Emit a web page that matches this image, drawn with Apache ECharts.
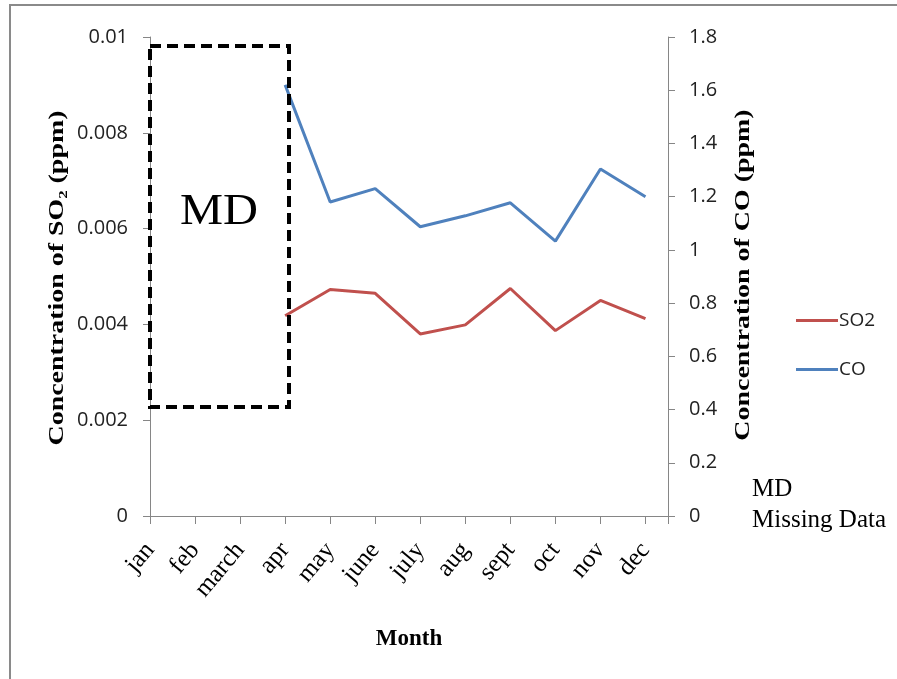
<!DOCTYPE html>
<html>
<head>
<meta charset="utf-8">
<script src="https://cdn.jsdelivr.net/npm/echarts@6/dist/echarts.min.js"></script>
<style>
  html, body { margin: 0; padding: 0; background: #fff; }
  #chart { width: 897px; height: 679px; }
</style>
</head>
<body>
<div id="chart"></div>
<script>
// months on the x axis
const months = ['jan', 'feb', 'march', 'apr', 'may', 'june', 'july', 'aug', 'sept', 'oct', 'nov', 'dec'];
// jan-march are missing data (MD)
const so2 = [null, null, null, 0.00418, 0.00473, 0.00465, 0.00380, 0.00399, 0.00475, 0.00387, 0.00450, 0.00412];
const co = [null, null, null, 1.62, 1.18, 1.23, 1.087, 1.128, 1.177, 1.033, 1.304, 1.20];
const so2Ticks = [0, 0.002, 0.004, 0.006, 0.008, 0.01];
const coTicks = [0, 0.2, 0.4, 0.6, 0.8, 1, 1.2, 1.4, 1.6, 1.8];

const chart = echarts.init(document.getElementById('chart'));

const axisGray = '#868686';
const labelFont = 'Open Sans, Liberation Sans, sans-serif';
const serif = 'Liberation Serif, Times New Roman, serif';

function pairs(arr) {
  return arr.map((v, i) => [i, v]);
}

// rotated axis titles, stretched along their length like the original
function axisTitle(text, x, y) {
  return {
    type: 'text',
    x: x,
    y: y,
    rotation: Math.PI / 2,
    scaleX: 1.33,
    style: {
      text: text,
      x: 0,
      y: 0,
      align: 'center',
      verticalAlign: 'middle',
      fontFamily: serif,
      fontWeight: 'bold',
      fontSize: 21,
      fill: '#000'
    }
  };
}

chart.setOption({
  animation: false,
  grid: { left: 150, right: 229, top: 37, bottom: 163 },
  legend: {
    orient: 'vertical',
    left: 791,
    top: 306,
    itemGap: 30,
    icon: 'rect',
    itemWidth: 42,
    itemHeight: 3,
    textStyle: { fontFamily: labelFont, fontSize: 19, color: '#222', padding: [0, 0, 0, -4] },
    data: ['SO2', 'CO']
  },
  xAxis: {
    type: 'value',
    min: 0,
    max: 11.5,
    interval: 1,
    name: 'Month',
    nameLocation: 'middle',
    nameGap: 112,
    nameTextStyle: { fontFamily: serif, fontWeight: 'bold', fontSize: 23, color: '#000' },
    splitLine: { show: false },
    axisLine: { lineStyle: { color: axisGray } },
    axisTick: { length: 8, lineStyle: { color: axisGray } },
    axisLabel: {
      rotate: 50,
      margin: 30,
      fontFamily: serif,
      fontSize: 25,
      color: '#000',
      formatter: v => Number.isInteger(v) ? (months[v] || '') : ''
    }
  },
  yAxis: [
    {
      type: 'value',
      min: so2Ticks[0],
      max: so2Ticks[so2Ticks.length - 1],
      interval: 0.002,
      position: 'left',
      splitLine: { show: false },
      axisLine: { show: true, lineStyle: { color: axisGray } },
      axisTick: { show: true, length: 7, lineStyle: { color: axisGray } },
      axisLabel: {
        margin: 22,
        fontFamily: labelFont,
        fontSize: 20,
        color: '#222',
        formatter: v => String(parseFloat(v.toFixed(4)))
      }
    },
    {
      type: 'value',
      min: coTicks[0],
      max: coTicks[coTicks.length - 1],
      interval: 0.2,
      position: 'right',
      splitLine: { show: false },
      axisLine: { show: true, lineStyle: { color: axisGray } },
      axisTick: { show: true, length: 7, lineStyle: { color: axisGray } },
      axisLabel: {
        margin: 21,
        fontFamily: labelFont,
        fontSize: 20,
        color: '#222',
        formatter: v => String(parseFloat(v.toFixed(2)))
      }
    }
  ],
  series: [
    {
      name: 'SO2',
      type: 'line',
      yAxisIndex: 0,
      showSymbol: false,
      symbol: 'none',
      itemStyle: { color: '#C0504D' },
      lineStyle: { color: '#C0504D', width: 3 },
      data: pairs(so2)
    },
    {
      name: 'CO',
      type: 'line',
      yAxisIndex: 1,
      showSymbol: false,
      symbol: 'none',
      itemStyle: { color: '#4F81BD' },
      lineStyle: { color: '#4F81BD', width: 3 },
      data: pairs(co)
    }
  ],
  graphic: [
    {
      type: 'rect',
      shape: { x: 10, y: 5, width: 1000, height: 800 },
      style: { fill: 'none', stroke: '#8a8a8a', lineWidth: 2 },
      silent: true
    },
    {
      type: 'rect',
      shape: { x: 150, y: 46, width: 139, height: 361 },
      style: { fill: 'none', stroke: '#000', lineWidth: 4, lineDash: [11, 6] },
      z: 10
    },
    {
      type: 'text',
      x: 180,
      y: 190,
      scaleX: 1.1,
      style: { text: 'MD', fontFamily: serif, fontSize: 44, fill: '#000' }
    },
    {
      type: 'text',
      x: 752,
      y: 474,
      style: { text: 'MD\nMissing Data', fontFamily: serif, fontSize: 25, lineHeight: 31, fill: '#000' }
    },
    axisTitle('Concentration of SO\u2082 (ppm)', 58, 278),
    axisTitle('Concentration of CO (ppm)', 744, 275)
  ]
});
</script>
</body>
</html>
